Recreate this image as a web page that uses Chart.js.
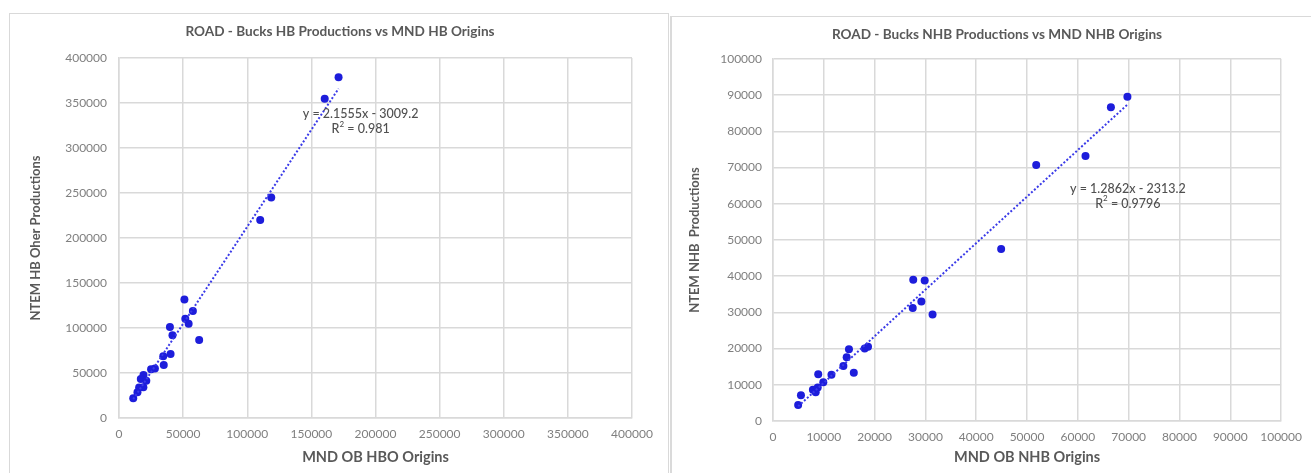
<!DOCTYPE html>
<html>
<head>
<meta charset="utf-8">
<script src="https://cdn.jsdelivr.net/npm/chart.js@4.4.1/dist/chart.umd.min.js"></script>
<style>
  html, body { margin: 0; padding: 0; background: #ffffff; }
  body { position: relative; width: 1311px; height: 473px; overflow: hidden; }
  .panel { position: absolute; box-sizing: border-box; background: #ffffff; }
  #panelHB  { left: 9px;  top: 13px; width: 660px; height: 480px; border: 1px solid #d9d9d9; border-bottom: none; }
  #panelNHB { left: 670px; top: 16px; width: 660px; height: 480px; border-left: 2px solid #dadada; border-top: 1px solid #d9d9d9; }
  canvas { position: absolute; }
  #chartHB  { left: 10px;  top: 14px; }
  #chartNHB { left: 671px; top: 17px; }
</style>
</head>
<body>
<div class="panel" id="panelHB"></div>
<div class="panel" id="panelNHB"></div>
<canvas id="chartHB" width="656" height="459"></canvas>
<canvas id="chartNHB" width="640" height="456"></canvas>
<script>
// HB: MND OB HBO origins (x) against NTEM HB productions (y)
const hbOrigins = [171200, 160400, 118700, 110100, 51000, 57600, 51700, 54300, 39700, 41700,
                   62500, 40200, 34500, 34900, 25000, 28000, 19100, 17000, 21300, 15700,
                   19000, 14400, 11100];
const hbProductions = [378500, 354600, 245000, 220100, 131700, 118800, 110200, 104600, 101200, 91900,
                       86700, 71200, 68600, 59000, 54200, 54900, 47800, 43300, 41400, 34000,
                       34200, 28700, 21850];

// NHB: MND OB NHB origins (x) against NTEM NHB productions (y)
const nhbOrigins = [4950, 5500, 7850, 8400, 8800, 8900, 9900, 11500, 13850, 14500,
                    14950, 15900, 18050, 18700, 27500, 27600, 29200, 29850, 31400, 44900,
                    51800, 61500, 66500, 69750];
const nhbProductions = [4400, 7100, 8600, 7950, 9250, 12900, 10700, 12800, 15200, 17600,
                        19800, 13300, 20000, 20500, 31200, 39000, 33000, 38800, 29400, 47500,
                        70700, 73200, 86700, 89600];

// Linear trendlines as reported on each chart
const hbTrend = { slope: 2.1555, intercept: -3009.2, r2: '0.981' };
const nhbTrend = { slope: 1.2862, intercept: -2313.2, r2: '0.9796' };

// Axis ranges and tick steps
const hbAxis = { max: 400000, step: 50000 };
const nhbAxis = { max: 100000, step: 10000 };

const titles = {
  hb: 'ROAD - Bucks HB Productions vs MND HB Origins',
  nhb: 'ROAD - Bucks NHB Productions vs MND NHB Origins'
};
const axisTitles = {
  hbX: 'MND OB HBO Origins', hbY: 'NTEM HB Oher Productions',
  nhbX: 'MND OB NHB Origins', nhbY: 'NTEM NHB  Productions'
};

const FONT = 'Lato, "Open Sans", sans-serif';
const TEXT_DARK = '#595959';
const TEXT_EQ = '#505050';
const TEXT_TICK = '#7f7f7f';
const GRID = '#d9d9d9';
const MARKER = '#1d1ddb';
const TREND = '#3a3ae8';

function pairs(xs, ys) { return xs.map((x, i) => ({ x: x, y: ys[i] })); }

function trendPoints(xs, t) {
  const lo = Math.min(...xs), hi = Math.max(...xs);
  return [lo, hi].map(x => ({ x: x, y: t.slope * x + t.intercept }));
}

function fmtEq(t) {
  const sign = t.intercept < 0 ? ' - ' : ' + ';
  return 'y = ' + t.slope + 'x' + sign + Math.abs(t.intercept);
}

// Draws the chart title and the trendline equation / R² block
const panelText = {
  id: 'panelText',
  afterDraw(chart, args, opts) {
    const ctx = chart.ctx;
    ctx.save();
    ctx.fillStyle = TEXT_DARK;
    ctx.textBaseline = 'middle';
    ctx.textAlign = 'center';
    ctx.font = 'bold 13.6px ' + FONT;
    ctx.fillText(opts.title, opts.titleX, opts.titleY);

    const px = chart.scales.x.getPixelForValue(opts.eqAt.x);
    const py = chart.scales.y.getPixelForValue(opts.eqAt.y);
    ctx.fillStyle = TEXT_EQ;
    ctx.font = '500 12.5px ' + FONT;
    ctx.fillText(fmtEq(opts.trend), px, py);

    // R² with raised superscript
    const big = '500 12.5px ' + FONT, small = '500 8px ' + FONT;
    ctx.font = big;
    const wR = ctx.measureText('R').width;
    const rest = ' = ' + opts.trend.r2;
    const wRest = ctx.measureText(rest).width;
    ctx.font = small;
    const w2 = ctx.measureText('2').width;
    const total = wR + w2 + wRest;
    let x0 = px - total / 2;
    const y2 = py + 15;
    ctx.textAlign = 'left';
    ctx.font = big;
    ctx.fillText('R', x0, y2);
    ctx.font = small;
    ctx.fillText('2', x0 + wR, y2 - 5);
    ctx.font = big;
    ctx.fillText(rest, x0 + wR + w2, y2);
    ctx.restore();
  }
};

function makeChart(id, cfg) {
  const tickFont = { family: FONT, size: 12 };
  return new Chart(document.getElementById(id), {
    type: 'scatter',
    data: {
      datasets: [
        {
          data: pairs(cfg.xs, cfg.ys),
          backgroundColor: MARKER,
          borderWidth: 0,
          pointRadius: 4,
          pointHoverRadius: 4,
          order: 2
        },
        {
          type: 'line',
          data: trendPoints(cfg.xs, cfg.trend),
          borderColor: TREND,
          borderWidth: 2,
          borderDash: [2, 2],
          pointRadius: 0,
          fill: false,
          order: 1
        }
      ]
    },
    options: {
      responsive: false,
      animation: false,
      devicePixelRatio: 1,
      layout: { padding: cfg.padding },
      plugins: {
        legend: { display: false },
        tooltip: { enabled: false },
        title: { display: false },
        panelText: {
          title: cfg.title, titleX: cfg.titleX, titleY: cfg.titleY,
          trend: cfg.trend, eqAt: cfg.eqAt
        }
      },
      scales: {
        x: {
          type: 'linear',
          min: 0, max: cfg.axis.max,
          afterFit: s => { s.height = cfg.xHeight; },
          ticks: {
            stepSize: cfg.axis.step, autoSkip: false, maxRotation: 0,
            padding: 9, color: TEXT_TICK, font: tickFont,
            callback: v => String(v)
          },
          grid: { color: GRID, lineWidth: 1.5, drawTicks: false },
          border: { color: GRID, width: 1.5 },
          title: {
            display: true, text: cfg.xTitle, color: TEXT_DARK,
            font: { family: FONT, size: 14.5, weight: 'bold' },
            padding: { top: 0, bottom: 7 }
          }
        },
        y: {
          type: 'linear',
          min: 0, max: cfg.axis.max,
          afterFit: s => { s.width = cfg.yWidth; },
          ticks: {
            stepSize: cfg.axis.step, autoSkip: false,
            padding: cfg.yTickPad, color: TEXT_TICK, font: tickFont,
            callback: v => String(v)
          },
          grid: { color: GRID, lineWidth: 1.5, drawTicks: false },
          border: { color: GRID, width: 1.5 },
          title: {
            display: true, text: cfg.yTitle, color: TEXT_DARK,
            font: { family: FONT, size: 13, weight: 'bold' },
            padding: { top: cfg.yTitlePad, bottom: 0 }
          }
        }
      }
    },
    plugins: [panelText]
  });
}

makeChart('chartHB', {
  xs: hbOrigins, ys: hbProductions, trend: hbTrend, axis: hbAxis,
  title: titles.hb, titleX: 330, titleY: 18,
  xTitle: axisTitles.hbX, yTitle: axisTitles.hbY,
  padding: { left: 0, right: 34, top: 44, bottom: 0 },
  xHeight: 55, yWidth: 109, yTickPad: 12, yTitlePad: 18,
  eqAt: { x: 188400, y: 337800 }
});

makeChart('chartNHB', {
  xs: nhbOrigins, ys: nhbProductions, trend: nhbTrend, axis: nhbAxis,
  title: titles.nhb, titleX: 326, titleY: 18,
  xTitle: axisTitles.nhbX, yTitle: axisTitles.nhbY,
  padding: { left: 0, right: 21, top: 42, bottom: 0 },
  xHeight: 52, yWidth: 102, yTickPad: 11, yTitlePad: 16,
  eqAt: { x: 69840, y: 64230 }
});
</script>
</body>
</html>
